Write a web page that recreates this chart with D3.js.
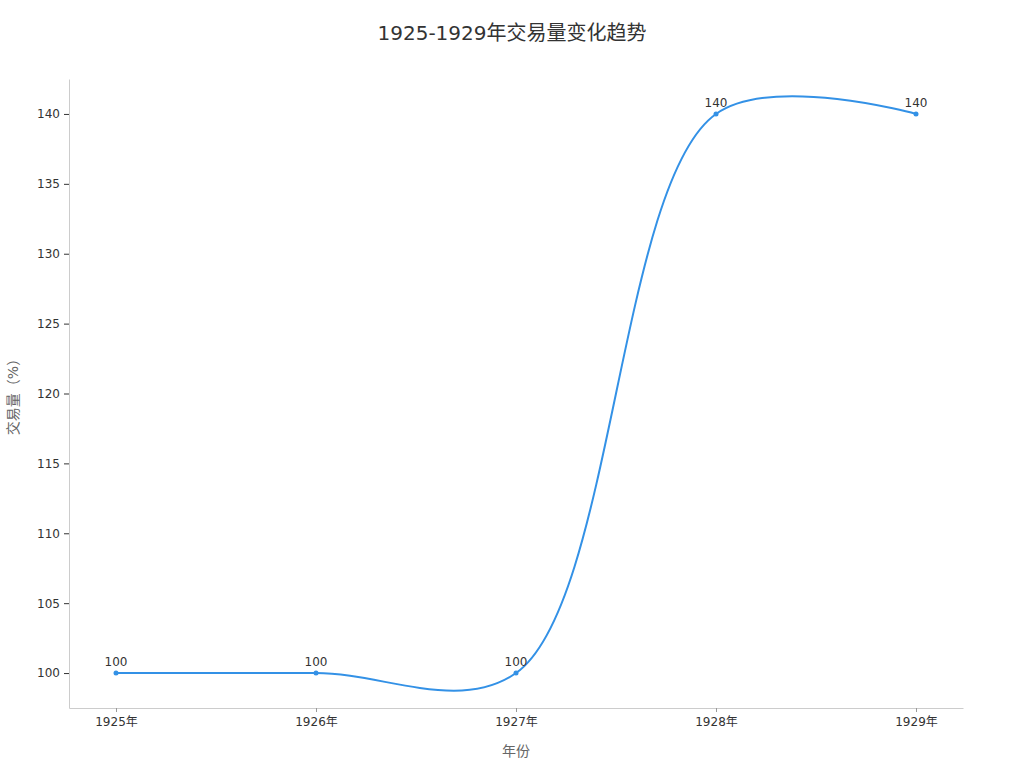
<!DOCTYPE html>
<html>
<head>
<meta charset="utf-8">
<script src="https://cdn.jsdelivr.net/npm/d3@7"></script>
<style>
  body { margin: 0; background: #fff; }
  svg, svg text { font-family: "DejaVu Sans", "Noto Sans CJK SC", sans-serif; }
</style>
</head>
<body>
<svg width="1024" height="768"></svg>
<script>
// data
var years = ["1925年", "1926年", "1927年", "1928年", "1929年"];
var volume = [100, 100, 100, 140, 140];
var yTicks = [100, 105, 110, 115, 120, 125, 130, 135, 140];

var svg = d3.select("svg"),
    plotLeft = 69, plotRight = 963, plotTop = 79, plotBottom = 708;

var x = d3.scalePoint()
    .domain(years)
    .range([plotLeft, plotRight])
    .padding(0.235);

var y = d3.scaleLinear()
    .domain([97.5, 142.5])
    .range([plotBottom, plotTop]);

// title
svg.append("text")
    .attr("x", 512).attr("y", 40)
    .attr("text-anchor", "middle")
    .style("font-size", "20px")
    .style("fill", "#333")
    .text("1925-1929年交易量变化趋势");

// y axis
var yAxis = svg.append("g")
    .attr("transform", "translate(" + plotLeft + ",0)")
    .call(d3.axisLeft(y).tickValues(yTicks).tickSize(5).tickSizeOuter(0).tickPadding(4));
yAxis.attr("font-family", null);
yAxis.select(".domain").attr("stroke", "#ccc");
yAxis.selectAll(".tick line").attr("stroke", "#333");
yAxis.selectAll(".tick text").style("font-size", "12px").style("fill", "#333");

// x axis
var xAxis = svg.append("g")
    .attr("transform", "translate(0," + plotBottom + ")")
    .call(d3.axisBottom(x).tickSize(4).tickSizeOuter(0).tickPadding(5));
xAxis.attr("font-family", null);
xAxis.select(".domain").attr("stroke", "#ccc");
xAxis.selectAll(".tick line").attr("stroke", "#999");
xAxis.selectAll(".tick text").style("font-size", "12px").style("fill", "#333");

// axis titles
svg.append("text")
    .attr("x", (plotLeft + plotRight) / 2).attr("y", 756)
    .attr("text-anchor", "middle")
    .style("font-size", "14px")
    .style("fill", "#666")
    .text("年份");

svg.append("text")
    .attr("transform", "translate(18," + (plotTop + plotBottom) / 2 + ") rotate(-90)")
    .attr("text-anchor", "middle")
    .style("font-size", "14px")
    .style("fill", "#666")
    .text("交易量（%）");

// line
var line = d3.line()
    .x(function (d, i) { return x(years[i]); })
    .y(function (d) { return y(d); })
    .curve(d3.curveCatmullRom.alpha(0.5));

svg.append("path")
    .datum(volume)
    .attr("fill", "none")
    .attr("stroke", "#3391e6")
    .attr("stroke-width", 2)
    .attr("d", line);

svg.selectAll(".dot")
    .data(volume)
    .enter()
    .append("circle")
    .attr("class", "dot")
    .attr("cx", function (d, i) { return x(years[i]); })
    .attr("cy", function (d) { return y(d); })
    .attr("r", 2.5)
    .attr("fill", "#3391e6");

svg.selectAll(".val")
    .data(volume)
    .enter()
    .append("text")
    .attr("class", "val")
    .attr("x", function (d, i) { return x(years[i]); })
    .attr("y", function (d) { return y(d) - 7; })
    .attr("text-anchor", "middle")
    .style("font-size", "12px")
    .style("fill", "#333")
    .text(function (d) { return d; });
</script>
</body>
</html>
